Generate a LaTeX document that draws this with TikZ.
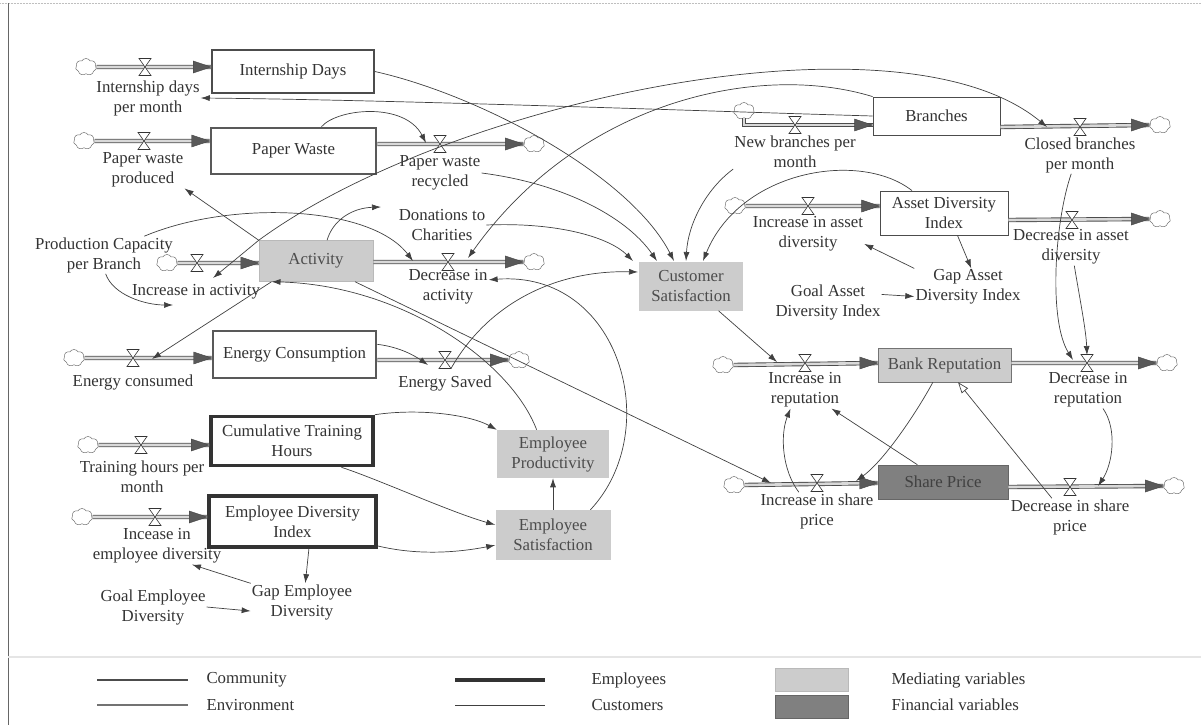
\documentclass[tikz,border=0pt]{standalone}
\usepackage{fontspec}
\setmainfont{Liberation Serif}
\usetikzlibrary{arrows.meta,shapes.symbols}
\tikzset{
  txt/.style={font=\fontsize{16.8}{20}\selectfont, text=black!80},
  lbl/.style={txt, align=center, inner sep=1pt},
  stk/.style={txt, rectangle, align=center, inner sep=0pt, draw=black!75, fill=white},
  stkCom/.style={stk, line width=1.6pt, draw=black!70},
  stkEnv/.style={stk, line width=2.6pt, draw=black!65},
  stkEmp/.style={stk, line width=3.6pt, draw=black!80},
  stkCus/.style={stk, line width=0.8pt, draw=black!70},
  stkMed/.style={stk, line width=0.5pt, draw=gray!55, fill=black!20, text=black!70},
  stkFin/.style={stk, line width=0.6pt, draw=black!60, fill=black!50, text=black!75},
  cloudst/.style={cloud, cloud puffs=7, cloud puff arc=120, aspect=1.25, draw=black!55, line width=0.5pt, fill=white, minimum width=21pt, minimum height=17pt, inner sep=0pt},
  valvenode/.style={minimum width=12pt, minimum height=17pt, inner sep=0pt, outer sep=0pt},
  valvest/.style={draw=black!80, line width=0.6pt, fill=white},
  pipe/.style={draw=black!70, line width=0.9pt, double=gray!30, double distance=2.6pt},
  tipst/.style={draw=black!75, fill=black!65, line width=0.4pt},
  link/.style={draw=black!75, line width=0.7pt, -{Latex[length=9pt,width=6pt]}},
  hlink/.style={draw=black!75, line width=0.7pt, -{Triangle[open,length=11pt,width=8pt]}},
}
\newcommand\drawvalve[1]{\filldraw[valvest] (#1.south west) -- (#1.south east) -- (#1.north west) -- (#1.north east) -- cycle;}
\newcommand\pipetipR[1]{\filldraw[tipst] #1 -- ++(-18,-6) -- ++(0,12) -- cycle;}
\begin{document}
\begin{tikzpicture}[x=1pt,y=-1pt]
\useasboundingbox (0,0) rectangle (1201,725);
% frame
\draw[gray!50, line width=0.5pt, densely dotted] (0,3) -- (1201,3);
\draw[black!60, line width=0.8pt] (8,3) -- (8,725);
\draw[black!50, line width=0.6pt, double=gray!20, double distance=1.2pt] (8,657) -- (1201,657);

% legend
\draw[black!70, line width=1.6pt] (97,680) -- (188,680);
\draw[black!55, line width=2.6pt] (97,705) -- (188,705);
\draw[black!80, line width=3.6pt] (455,680) -- (545,680);
\draw[black!75, line width=0.8pt] (455,705) -- (545,705);
\node[txt, anchor=west] (gCom) at (203,680) {Community};
\node[txt, anchor=west] (gEnv) at (203,705) {Environment};
\node[txt, anchor=west] (gEmp) at (588,680) {Employees};
\node[txt, anchor=west] (gCus) at (588,705) {Customers};
\node[stkMed, minimum width=73pt, minimum height=23pt] (gMed) at (811.5,679.5) {};
\node[stkFin, minimum width=73pt, minimum height=23pt] (gFin) at (811.5,706.5) {};
\node[txt, anchor=west] (gMedT) at (888,680) {Mediating variables};
\node[txt, anchor=west] (gFinT) at (888,705) {Financial variables};

% stocks
\node[stkCom, minimum width=162pt, minimum height=43pt] (sID) at (293,71.5) {Internship Days};
\node[stkEnv, minimum width=165pt, minimum height=46pt] (sPW) at (293.5,151) {Paper Waste};
\node[stkMed, minimum width=114pt, minimum height=41pt] (sAct) at (316,261) {Activity};
\node[stkEnv, minimum width=163pt, minimum height=47pt] (sEC) at (294.5,354.5) {Energy Consumption};
\node[stkEmp, minimum width=162pt, minimum height=49pt] (sCTH) at (292,441) {Cumulative Training\\Hours};
\node[stkEmp, minimum width=167pt, minimum height=51pt] (sEDI) at (292.5,521.5) {Employee Diversity\\Index};
\node[stkMed, draw=none, minimum width=112pt, minimum height=48pt] (sEP) at (553,454) {Employee\\Productivity};
\node[stkMed, draw=none, minimum width=115pt, minimum height=50pt] (sES) at (553,535) {Employee\\Satisfaction};
\node[stkMed, draw=none, minimum width=104pt, minimum height=49pt] (sCS) at (691,286) {Customer\\Satisfaction};
\node[stkCus, minimum width=127pt, minimum height=38pt] (sBr) at (936.5,116) {Branches};
\node[stkCus, minimum width=128pt, minimum height=44pt] (sADI) at (944,213) {Asset Diversity\\Index};
\node[stkMed, draw=black!55, minimum width=133pt, minimum height=34pt] (sBR) at (944.5,365) {Bank Reputation};
\node[stkFin, minimum width=130pt, minimum height=34pt] (sSP) at (943,482) {Share Price};

% clouds
\node[cloudst] (cID) at (86,67) {};
\node[cloudst] (cPWP) at (84,141) {};
\node[cloudst] (cPWR) at (534,144) {};
\node[cloudst] (cIA) at (167,263) {};
\node[cloudst] (cDA) at (534,262) {};
\node[cloudst] (cEC) at (74,358) {};
\node[cloudst] (cESv) at (519,360) {};
\node[cloudst] (cTH) at (88,445) {};
\node[cloudst] (cIED) at (82,517) {};
\node[cloudst] (cNB) at (744,111) {};
\node[cloudst] (cCB) at (1160,125) {};
\node[cloudst] (cIAD) at (735,206) {};
\node[cloudst] (cDAD) at (1160,219) {};
\node[cloudst] (cIR) at (723,365) {};
\node[cloudst] (cDR) at (1167,363) {};
\node[cloudst] (cISP) at (734,485) {};
\node[cloudst] (cDSP) at (1174,486) {};

% valve positions
\node[valvenode] (vID) at (145,67) {};
\node[valvenode] (vPWP) at (144,141) {};
\node[valvenode] (vPWR) at (440,144) {};
\node[valvenode] (vIA) at (197,263) {};
\node[valvenode] (vDA) at (448,262) {};
\node[valvenode] (vEC) at (133,358) {};
\node[valvenode] (vESv) at (445,360) {};
\node[valvenode] (vTH) at (141,445) {};
\node[valvenode] (vIED) at (155,517) {};
\node[valvenode] (vNB) at (795,125) {};
\node[valvenode] (vCB) at (1080,127) {};
\node[valvenode] (vIAD) at (808,206) {};
\node[valvenode] (vDAD) at (1072,220) {};
\node[valvenode] (vIR) at (805,363) {};
\node[valvenode] (vDR) at (1087,363) {};
\node[valvenode] (vISP) at (817,483) {};
\node[valvenode] (vDSP) at (1070,487) {};

% pipes
\draw[pipe] (cID.east) -- (sID.west |- vID); \pipetipR{(sID.west |- vID)}
\draw[pipe] (cPWP.east) -- (sPW.west |- vPWP); \pipetipR{(sPW.west |- vPWP)}
\draw[pipe] (sPW.east |- vPWR) -- (cPWR.west); \pipetipR{(cPWR.west)}
\draw[pipe] (cIA.east) -- (sAct.west |- vIA); \pipetipR{(sAct.west |- vIA)}
\draw[pipe] (sAct.east |- vDA) -- (cDA.west); \pipetipR{(cDA.west)}
\draw[pipe] (cEC.east) -- (sEC.west |- vEC); \pipetipR{(sEC.west |- vEC)}
\draw[pipe] (sEC.east |- vESv) -- (cESv.west); \pipetipR{(cESv.west)}
\draw[pipe] (cTH.east) -- (sCTH.west |- vTH); \pipetipR{(sCTH.west |- vTH)}
\draw[pipe] (cIED.east) -- (sEDI.west |- vIED); \pipetipR{(sEDI.west |- vIED)}
\draw[pipe] (cNB.south) |- (sBr.west |- vNB); \pipetipR{(sBr.west |- vNB)}
\draw[pipe] (sBr.east |- vCB) -- (cCB.west); \pipetipR{(cCB.west)}
\draw[pipe] (cIAD.east) -- (sADI.west |- vIAD); \pipetipR{(sADI.west |- vIAD)}
\draw[pipe] (sADI.east |- vDAD) -- (cDAD.west); \pipetipR{(cDAD.west)}
\draw[pipe] (cIR.east) -- (sBR.west |- vIR); \pipetipR{(sBR.west |- vIR)}
\draw[pipe] (sBR.east |- vDR) -- (cDR.west); \pipetipR{(cDR.west)}
\draw[pipe] (cISP.east) -- (sSP.west |- vISP); \pipetipR{(sSP.west |- vISP)}
\draw[pipe] (sSP.east |- vDSP) -- (cDSP.west); \pipetipR{(cDSP.west)}

% valves drawn
\drawvalve{vID}\drawvalve{vPWP}\drawvalve{vPWR}\drawvalve{vIA}\drawvalve{vDA}
\drawvalve{vEC}\drawvalve{vESv}\drawvalve{vTH}\drawvalve{vIED}\drawvalve{vNB}
\drawvalve{vCB}\drawvalve{vIAD}\drawvalve{vDAD}\drawvalve{vIR}\drawvalve{vDR}
\drawvalve{vISP}\drawvalve{vDSP}

% labels
\node[lbl] (lIDPM) at (148,98) {Internship days\\per month};
\node[lbl] (lPWP) at (143,170) {Paper waste\\produced};
\node[lbl] (lPWR) at (440,173) {Paper waste\\recycled};
\node[lbl] (lDon) at (442,225) {Donations to\\Charities};
\node[lbl] (lPCB) at (104,255) {Production Capacity\\per Branch};
\node[lbl] (lIA) at (196,292) {Increase in activity};
\node[lbl] (lDA) at (448,287) {Decrease in\\activity};
\node[lbl] (lEC) at (133,382) {Energy consumed};
\node[lbl] (lESv) at (445,383) {Energy Saved};
\node[lbl] (lTH) at (142,477) {Training hours per\\month};
\node[lbl] (lIED) at (157,546) {Incease in\\employee diversity};
\node[lbl] (lGoalED) at (153,607) {Goal Employee\\Diversity};
\node[lbl] (lGapED) at (302,602) {Gap Employee\\Diversity};
\node[lbl] (lNB) at (795,152) {New branches per\\month};
\node[lbl] (lCB) at (1080,155) {Closed branches\\per month};
\node[lbl] (lIAD) at (808,234) {Increase in asset\\diversity};
\node[lbl] (lDAD) at (1071,247) {Decrease in asset\\diversity};
\node[lbl] (lGapA) at (968,287) {Gap Asset\\Diversity Index};
\node[lbl] (lGoalA) at (828,302) {Goal Asset\\Diversity Index};
\node[lbl] (lIR) at (805,390) {Increase in\\reputation};
\node[lbl] (lDR) at (1088,390) {Decrease in\\reputation};
\node[lbl] (lISP) at (817,511) {Increase in share\\price};
\node[lbl] (lDSP) at (1070,517) {Decrease in share\\price};

% link end points on pipes
\coordinate (tPWR) at (426,143);
\coordinate (tDAl) at (413,261);
\coordinate (tDAr) at (468,258);
\coordinate (tCB) at (1047,127);
\coordinate (tIA) at (213,278);
\coordinate (tIA2) at (173,305);
\coordinate (tDon) at (381,207);
\coordinate (tECn) at (152,359);
\coordinate (tESv) at (428,365);
\coordinate (tCS1) at (633,261);
\coordinate (tCS2) at (657,261);
\coordinate (tCS3) at (674,261);
\coordinate (tCS4) at (686,261);
\coordinate (tCS5) at (703,261);
\coordinate (tCS6) at (638,272);
\coordinate (tIRp) at (777,362);
\coordinate (tISPa) at (771,483);
\coordinate (tISPb) at (856,481);
\coordinate (tDR1) at (1073,360);
\coordinate (tDR2) at (1087,355);
\coordinate (tDSP) at (1098,486);

% links
\draw[link] (sID.east) .. controls (480,95) and (630,175) .. (tCS3);
\draw[link] (sBr.west) .. controls (700,111) and (400,100) .. (lIDPM.east);
\draw[link] (sPW.41) .. controls (338,108) and (405,102) .. (tPWR);
\draw[link] (sAct.north west) -- (lPWP.south east);
\draw[link] (sAct.62) .. controls (333,220) and (352,208) .. (tDon);
\draw[link] (lPCB.25) .. controls (230,200) and (370,205) .. (tDAl);
\draw[link] (lPCB.-85) .. controls (113,295) and (145,305) .. (tIA2);
\draw[link] (sAct.north west) -- (tIA);
\draw[link] (sAct.north west) .. controls (450,100) and (900,5) .. (tCB);
\draw[link] (sBr.north west) .. controls (760,62) and (580,100) .. (tDAr);
\draw[link] (sAct.-155) -- (tECn);
\draw[link] (sEP.124) .. controls (510,360) and (400,285) .. (sAct.-155);
\draw[link] (sEC.7) .. controls (400,347) and (415,356) .. (tESv);
\draw[link] (vESv.south east) .. controls (490,300) and (560,270) .. (tCS6);
\draw[link] (lPWR.east) .. controls (560,183) and (625,215) .. (tCS2);
\draw[link] (lDon.east) .. controls (560,222) and (610,238) .. (tCS1);
\draw[link] (lNB.south west) .. controls (705,190) and (688,225) .. (tCS4);
\draw[link] (sADI.145) .. controls (860,150) and (740,170) .. (tCS5);
\draw[link] (sES.34) .. controls (665,430) and (620,270) .. (lDA.10);
\draw[link] (sES.north) -- (sEP.south);
\draw[link] (sCTH.north east) .. controls (420,408) and (470,415) .. (sEP.north west);
\draw[link] (sCTH.-28) .. controls (380,480) and (450,512) .. (sES.170);
\draw[link] (sEDI.-16) .. controls (420,556) and (460,552) .. (sES.-170);
\draw[link] (sAct.-28) -- (tISPa);
\draw[link] (sCS.-42) -- (tIRp);
\draw[link] (sBR.-124) .. controls (918,410) and (885,460) .. (tISPb);
\draw[link] (lISP.134) .. controls (782,470) and (780,435) .. (lIR.-128);
\draw[link] (sSP.146) -- (lIR.-35);
\draw[hlink] (lDSP.134) -- (sBR.-52);
\draw[link] (lDR.-51) .. controls (1118,430) and (1112,465) .. (tDSP);
\draw[link] (lCB.-115) .. controls (1055,220) and (1048,320) .. (tDR1);
\draw[link] (lDAD.-80) .. controls (1080,300) and (1086,330) .. (tDR2);
\draw[link] (sADI.-59) -- (lGapA.80);
\draw[link] (lGapA.north west) -- (lIAD.-10);
\draw[link] (lGoalA.8) -- (lGapA.-170);
\draw[link] (sEDI.-59) -- (lGapED.80);
\draw[link] (lGapED.160) -- (lIED.-28);
\draw[link] (lGoalED.east) -- (lGapED.-170);
\end{tikzpicture}
\end{document}
